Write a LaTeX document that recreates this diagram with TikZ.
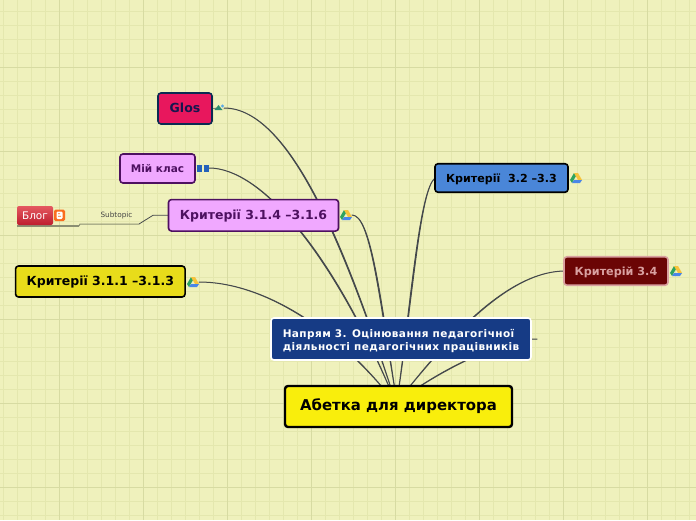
\documentclass[tikz,border=0pt]{standalone}
\usepackage{fontspec}
\setmainfont{DejaVu Sans}
\usetikzlibrary{calc}
\definecolor{paper}{HTML}{EFF1BC}
\definecolor{gridminor}{HTML}{E4E7AE}
\definecolor{gridmajor}{HTML}{D7DBA2}
\definecolor{linkc}{HTML}{45494C}
\definecolor{subc}{HTML}{8B8F72}
\pgfdeclarelayer{gridlayer}
\pgfdeclarelayer{linklayer}
\pgfsetlayers{gridlayer,linklayer,main}
\tikzset{
  x=1pt,y=-1pt,
  topic/.style={draw,rounded corners=3pt,inner sep=0pt,outer sep=0pt,align=center,font=\bfseries,line width=1.6pt,text height=1.04em,text depth=.2em},
  taper/.style={draw=linkc,fill=linkc,line width=1pt,line join=round},
  pinkc/.style={topic,fill=pinkfill,draw=pinkedge,text=pinkedge},
  drive/.pic={
    \fill[fill=drivegreen] (-2,-5)--(-6,2)--(-4,5)--(0,-2)--cycle;
    \fill[fill=driveyellow] (-2,-5)--(2,-5)--(6,2)--(2,2)--cycle;
    \fill[fill=driveblue] (-4,5)--(-2,2)--(6,2)--(4,5)--cycle;
  }
}
\definecolor{pinkfill}{HTML}{F0A8FF}
\definecolor{pinkedge}{HTML}{4D1060}
\definecolor{drivegreen}{HTML}{2EA35F}
\definecolor{driveyellow}{HTML}{F6C33B}
\definecolor{driveblue}{HTML}{4A86E8}
% start, control 1, control 2, horizontal offset of the end on the root
\newcommand{\taperlink}[4]{%
  \draw[taper] (#1) .. controls (#2) and (#3) .. ($(root.north)+(#4-1.2,6)$)
    .. controls ($(#3)+(1.6,0)$) and ($(#2)+(.3,0)$) .. (#1) -- cycle;}
\begin{document}
\begin{tikzpicture}
\useasboundingbox (0,0) rectangle (696,520);
\begin{pgfonlayer}{gridlayer}
  \fill[paper] (0,0) rectangle (696,520);
  \foreach \k in {0,...,49} {
    \draw[gridminor,line width=.8pt] ({3+14*\k},0) -- ({3+14*\k},520);
  }
  \foreach \k in {0,...,36} {
    \draw[gridminor,line width=.8pt] (0,{11.5+14*\k}) -- (696,{11.5+14*\k});
  }
  \foreach \k in {0,...,7} {
    \draw[gridmajor,line width=.9pt] ({59+84*\k},0) -- ({59+84*\k},520);
  }
  \foreach \k in {0,...,5} {
    \draw[gridmajor,line width=.9pt] (0,{67.5+84*\k}) -- (696,{67.5+84*\k});
  }
\end{pgfonlayer}

% topics
\node[topic,line width=2.4pt,draw=black,fill={rgb,255:red,249;green,238;blue,12},minimum width=227pt,minimum height=41pt,font=\bfseries\fontsize{14.9}{18}\selectfont] (root) at (398.5,406.5) {Абетка для директора};
\node[topic,text height=,text depth=,align=left,draw=white,fill={rgb,255:red,22;green,59;blue,133},text=white,minimum width=260pt,minimum height=42pt,font=\bfseries\fontsize{10.5}{13}\selectfont\addfontfeature{LetterSpace=4}] (main) at (401,339) {\rule{0pt}{12pt}Напрям 3. Оцінювання педагогічної\\діяльності педагогічних працівників};
\node[topic,draw={rgb,255:red,11;green,43;blue,82},fill={rgb,255:red,232;green,23;blue,93},text={rgb,255:red,22;green,22;blue,78},minimum width=54pt,minimum height=31pt,font=\bfseries\fontsize{12.5}{15}\selectfont] (glos) at (185,108.5) {Glos};
\node[pinkc,minimum width=75pt,minimum height=29pt,font=\bfseries\fontsize{10.5}{13}\selectfont] (klas) at (157.5,168.5) {Мій клас};
\node[pinkc,minimum width=170pt,minimum height=31.5pt,font=\bfseries\fontsize{12.5}{15}\selectfont] (c314) at (253.5,215.3) {Критерії 3.1.4 –3.1.6};
\node[topic,draw=black,fill={rgb,255:red,232;green,220;blue,26},text=black,minimum width=169.5pt,minimum height=31pt,font=\bfseries\fontsize{12.5}{15}\selectfont] (c311) at (100.3,281.5) {Критерії 3.1.1 –3.1.3};
\node[topic,draw=black,fill={rgb,255:red,74;green,134;blue,216},text=black,minimum width=133pt,minimum height=28.5pt,font=\bfseries\fontsize{11.1}{13}\selectfont] (c32) at (501.5,178) {Критерії\ \ 3.2 –3.3};
\node[topic,draw={rgb,255:red,217;green,160;blue,160},fill={rgb,255:red,107;green,5;blue,5},text={rgb,255:red,217;green,160;blue,160},minimum width=104pt,minimum height=28.5pt,font=\bfseries\fontsize{11.2}{13}\selectfont] (c34) at (616,271) {Критерій 3.4};
\node[rounded corners=2pt,top color={rgb,255:red,228;green,88;blue,96},bottom color={rgb,255:red,190;green,30;blue,46},text=white,minimum width=36pt,minimum height=19pt,inner sep=0pt,font=\fontsize{10.5}{13}\selectfont] (blog) at (35,215.5) {Блог};
\node[text={rgb,255:red,70;green,70;blue,70},inner sep=0pt,font=\fontsize{7.3}{9}\selectfont] (sub) at (116.5,215.5) {Subtopic};

% icons and link ends
\coordinate (iglos) at (218.5,108);
\coordinate (iklas) at (203,168);
\coordinate (i314) at (346,215);
\coordinate (i311) at (193,282);
\coordinate (i32) at (576,178);
\coordinate (i34) at (676,271);
\coordinate (sglos) at (224,108);
\coordinate (sklas) at (209,168);
\coordinate (s314) at (352,215);
\coordinate (s311) at (199,282);
\coordinate (stub) at (537,339);
\coordinate (blogend) at (17,226);
\pic at (i314) {drive};
\pic at (i311) {drive};
\pic at (i32) {drive};
\pic at (i34) {drive};
\fill[rounded corners=1.5pt,fill={rgb,255:red,250;green,110;blue,30}] (54,209.5) rectangle (65,221);
\fill[white,rounded corners=1.2pt] (56.5,211.5) rectangle (62.5,219);
\fill[rounded corners=.3pt,fill={rgb,255:red,250;green,110;blue,30}] (58,213.3) rectangle (60,214.2);
\fill[rounded corners=.3pt,fill={rgb,255:red,250;green,110;blue,30}] (58,215.8) rectangle (61,216.6);
\fill[fill={rgb,255:red,46;green,140;blue,110}] (214.5,110) -- (218.5,105) -- (222.5,110) -- cycle;
\fill[fill={rgb,255:red,90;green,170;blue,230}] (222.5,106) circle (1.6);
\fill[fill={rgb,255:red,36;green,98;blue,186}] (197,164.5) rectangle (202.4,171.5);
\fill[fill={rgb,255:red,36;green,98;blue,186}] (203.6,164.5) rectangle (209,171.5);

% connectors
\begin{pgfonlayer}{linklayer}
  \taperlink{sglos}{290,108}{345,250}{-5}
  \taperlink{sklas}{260,168}{330,250}{-6}
  \taperlink{s314}{370,215}{378,290}{-2}
  \taperlink{s311}{260,282}{330,325}{-11}
  \taperlink{c32.west}{420,190}{412,290}{1}
  \taperlink{c34.west}{520,272}{470,310}{8}
  \taperlink{stub}{505,339}{450,365}{14}
  \draw[draw=linkc,line width=.6pt] (glos.east) -- (iglos);
  \coordinate (bend) at (153,215.3);
  \draw[draw=linkc,line width=.8pt] (c314.west) -- (bend) -- (139,224);
  \draw[draw=subc,line width=1pt] (139,224) -- (80,224) -- (79,226);
  \draw[draw=subc,line width=1.5pt] (79,226) -- (blogend);
\end{pgfonlayer}
\end{tikzpicture}
\end{document}
